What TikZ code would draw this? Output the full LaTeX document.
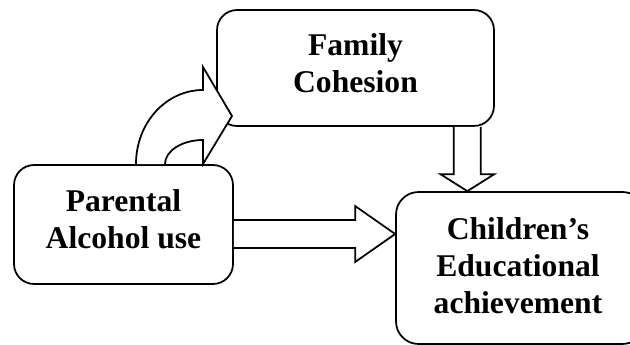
\documentclass[tikz,border=0pt]{standalone}
\usepackage{fontspec}
\setmainfont{Liberation Serif}
\usetikzlibrary{calc}
\begin{document}
\begin{tikzpicture}[x=0.02cm, y=-0.02cm, line width=1pt,
	box/.style={draw, fill=white, rounded corners=0.4cm},
	lbl/.style={align=center, inner sep=0pt, font=\fontsize{18}{21}\selectfont\bfseries},
	blk/.style={draw, fill=white, line join=miter}]
	\useasboundingbox (0,0) rectangle (630,345);
	% boxes
	\node[box, minimum width=5.54cm, minimum height=2.32cm] (fam) at (355.5,68) {};
	\node[box, minimum width=4.38cm, minimum height=2.38cm] (par) at (123.5,224.5) {};
	\node[box, rounded corners=0.45cm, minimum width=4.98cm, minimum height=3.04cm] (chi) at (520.5,268) {};
	\node[lbl] (famtxt) at (355.5,63) {Family\\Cohesion};
	\node[lbl] (partxt) at (123.5,219) {Parental\\Alcohol use};
	\node[lbl] (chitxt) at (518,266) {Children’s\\Educational\\achievement};
	% curved arrow
	\coordinate (cout) at (136,164);
	\coordinate (cin) at (165,164);
	\coordinate (ctip) at (232,116);
	\draw[blk] (cout) .. controls (136,123) and (166,90) .. (203,90) -- (203,67) -- (ctip)
		-- (203,164) -- (203,140) .. controls (182,140) and (165,151) .. (cin);
	% straight arrows
	\coordinate (htail) at ($(par.east)+(0,9.5)$);
	\coordinate (htip) at (htail -| chi.west);
	\draw[blk] ($(htail)+(0,-14)$) -- ($(htip)+(-40,-14)$) -- ($(htip)+(-40,-28)$) -- (htip)
		-- ($(htip)+(-40,28)$) -- ($(htip)+(-40,14)$) -- ($(htail)+(0,14)$);
	\coordinate (dtop) at ($(fam.south east)+(-27.5,0)$);
	\coordinate (dtip) at (dtop |- chi.north);
	\draw[blk] ($(dtop)+(-13.5,0)$) -- ($(dtip)+(-13.5,-17)$) -- ($(dtip)+(-27,-17)$) -- (dtip)
		-- ($(dtip)+(27,-17)$) -- ($(dtip)+(13.5,-17)$) -- ($(dtop)+(13.5,0)$);
\end{tikzpicture}
\end{document}
